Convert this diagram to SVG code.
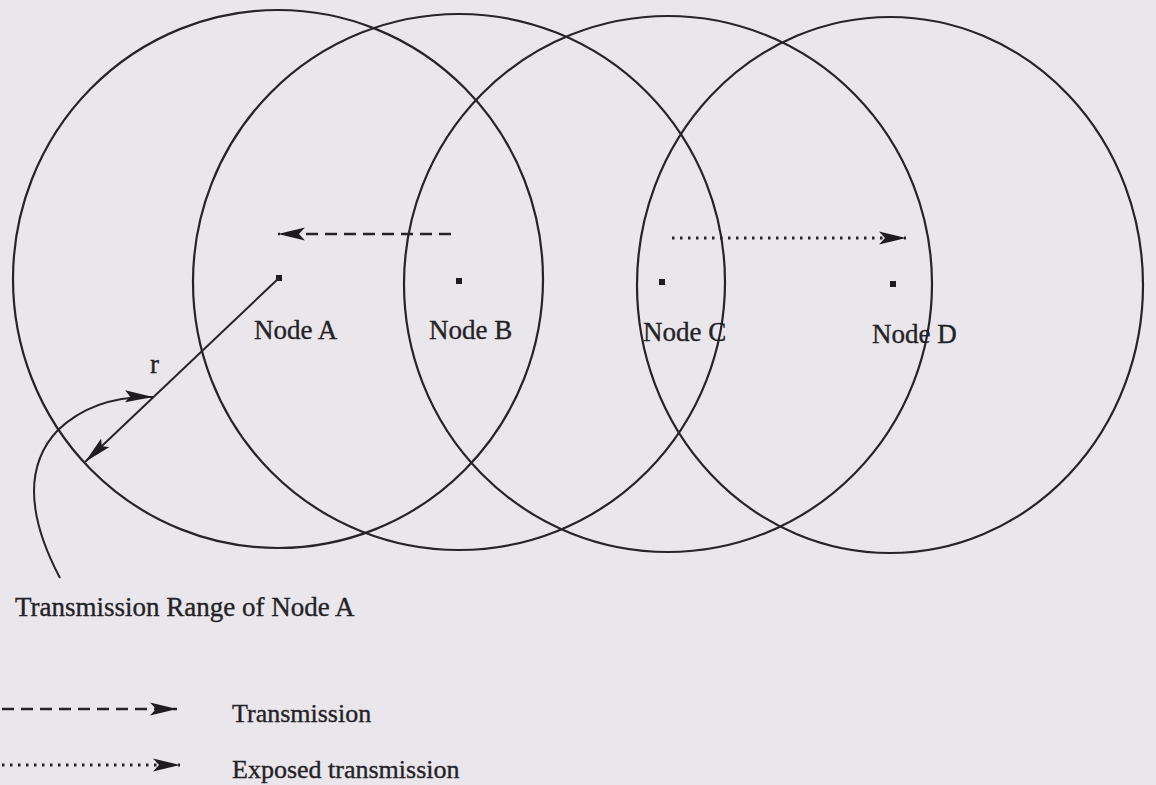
<svg xmlns="http://www.w3.org/2000/svg" width="1156" height="785" viewBox="0 0 1156 785">
<defs>
<style>
.rng{fill:none;stroke:#262428;stroke-width:2.2}
.ln{fill:none;stroke:#262428;stroke-width:2}
.dash{fill:none;stroke:#262428;stroke-width:2.5;stroke-dasharray:12 7}
.dot{fill:none;stroke:#262428;stroke-width:3;stroke-dasharray:2.5 5.5}
.lbl{font-family:"Liberation Serif","Times New Roman",serif;font-size:27px;fill:#242226;stroke:#242226;stroke-width:0.35}
.lg{font-size:26px}
.nd{fill:#1e1c20}
</style>
<marker id="ah" markerUnits="userSpaceOnUse" markerWidth="30" markerHeight="16" refX="27" refY="8" orient="auto">
<path d="M0,1.5 L27,8 L0,14.5 L6,8 z" fill="#1e1c20"/>
</marker>
<marker id="ahs" markerUnits="userSpaceOnUse" markerWidth="30" markerHeight="16" refX="28" refY="8" orient="auto">
<path d="M0,2 L28,8 L0,14 L5,8 z" fill="#1e1c20"/>
</marker>
</defs>
<rect width="1156" height="785" fill="#e9e7ec"/>
<g id="range-A"><ellipse class="rng" cx="278" cy="279" rx="265" ry="269"/></g>
<g id="range-B"><ellipse class="rng" cx="459" cy="282" rx="266" ry="268"/></g>
<g id="range-C"><ellipse class="rng" cx="668" cy="284" rx="264" ry="268"/></g>
<g id="range-D"><ellipse class="rng" cx="890" cy="285" rx="253" ry="268"/></g>
<g id="node-A"><rect class="nd" x="276" y="275" width="6" height="6"/><text class="lbl" x="254" y="339">Node A</text></g>
<g id="node-B"><rect class="nd" x="456" y="278" width="6" height="6"/><text class="lbl" x="429" y="339">Node B</text></g>
<g id="node-C"><rect class="nd" x="659" y="279" width="6" height="6"/><text class="lbl" x="643" y="341">Node C</text></g>
<g id="node-D"><rect class="nd" x="890" y="281" width="6" height="6"/><text class="lbl" x="872" y="343">Node D</text></g>
<g id="connectors">
<line class="dash" x1="451" y1="234" x2="278" y2="234" marker-end="url(#ah)"/>
<line class="dot" x1="672" y1="238" x2="906" y2="238" marker-end="url(#ah)"/>
<line class="ln" x1="279" y1="278" x2="85" y2="462" marker-end="url(#ahs)"/>
<path class="ln" d="M60,578 C32,525 20,470 58,430 C82,407 112,396 153,397" marker-end="url(#ahs)"/>
</g>
<g id="radius-label"><text class="lbl" x="150" y="373">r</text></g>
<g id="caption"><text class="lbl" x="15" y="616">Transmission Range of Node A</text></g>
<g id="legend">
<line class="dash" x1="2" y1="709" x2="177" y2="709" marker-end="url(#ah)"/>
<text class="lbl lg" x="232" y="722">Transmission</text>
<line class="dot" x1="2" y1="765" x2="180" y2="765" marker-end="url(#ah)"/>
<text class="lbl lg" x="232" y="778">Exposed transmission</text>
</g>
</svg>
